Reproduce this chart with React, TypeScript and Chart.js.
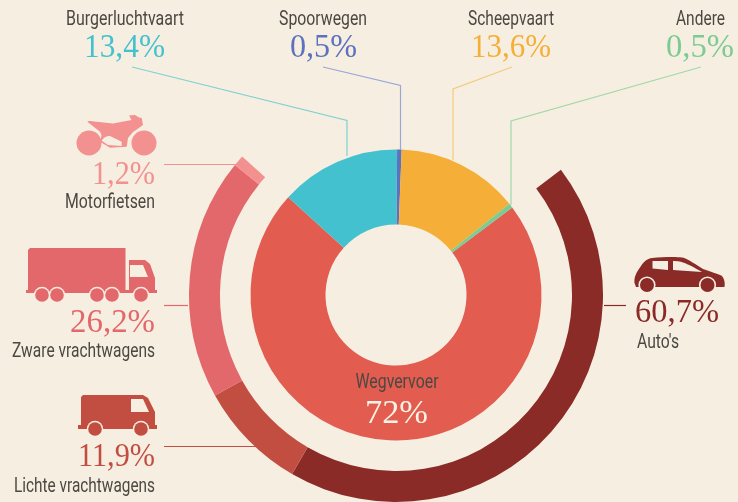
import React, { useEffect, useRef } from "react";
import { Chart, registerables } from "chart.js";

Chart.register(...registerables);

const innerCategories = ["Wegvervoer", "Burgerluchtvaart", "Spoorwegen", "Scheepvaart", "Andere"];
const innerValues = [72, 13.4, 0.5, 13.6, 0.5];
const innerColors = ["#E25C50", "#44C1CE", "#5C72BE", "#F5AE37", "#7BCB93"];

const outerCategories = ["Auto's", "Lichte vrachtwagens", "Zware vrachtwagens", "Motorfietsen"];
const outerValues = [60.7, 11.9, 26.2, 1.2];
const outerColors = ["#8A2B28", "#C24E41", "#E2686B", "#F39190"];

const BG = "#F6EFE1";
const LABEL_FONT = "Roboto";
const NUM_FONT = "'Liberation Serif'";

const fmt = (v: number) => (Number.isInteger(v) ? `${v}%` : `${v.toFixed(1).replace(".", ",")}%`);

function fitText(ctx: CanvasRenderingContext2D, text: string, x: number, y: number, width: number, align: "left" | "right" | "center", font: string, color: string) {
  ctx.save();
  ctx.font = font;
  ctx.fillStyle = color;
  ctx.textBaseline = "alphabetic";
  ctx.textAlign = "left";
  const w = ctx.measureText(text).width;
  const sx = width / w;
  const left = align === "left" ? x : align === "right" ? x - width : x - width / 2;
  ctx.translate(left, y);
  ctx.scale(sx, 1);
  ctx.fillText(text, 0, 0);
  ctx.restore();
}

function poly(ctx: CanvasRenderingContext2D, pts: number[][], color: string, lineWidth = 1.2) {
  ctx.save();
  ctx.strokeStyle = color;
  ctx.lineWidth = lineWidth;
  ctx.beginPath();
  pts.forEach((p, i) => (i ? ctx.lineTo(p[0], p[1]) : ctx.moveTo(p[0], p[1])));
  ctx.stroke();
  ctx.restore();
}

function fillShape(ctx: CanvasRenderingContext2D, d: string, color: string) {
  ctx.fillStyle = color;
  ctx.fill(new Path2D(d));
}

function wheel(ctx: CanvasRenderingContext2D, x: number, y: number, r: number, color: string, ring = 1.6) {
  ctx.beginPath();
  ctx.arc(x, y, r + ring, 0, Math.PI * 2);
  ctx.fillStyle = BG;
  ctx.fill();
  ctx.beginPath();
  ctx.arc(x, y, r, 0, Math.PI * 2);
  ctx.fillStyle = color;
  ctx.fill();
}

const overlay = {
  id: "overlay",
  afterDraw(chart: any) {
    const ctx: CanvasRenderingContext2D = chart.ctx;
    const [auto, lichte, zware, motor] = outerColors;
    // leaders
    poly(ctx, [[132, 67], [347, 120.5], [347, 156]], "#7FD0D2");
    poly(ctx, [[323, 67], [400.5, 85.5], [400.5, 150]], "#9AA5D8");
    poly(ctx, [[512, 67], [453, 89], [453, 160]], "#F5C97C");
    poly(ctx, [[701, 67], [511, 121], [511, 205]], "#A0D8A8");
    poly(ctx, [[164, 164.5], [241, 164.5]], motor);
    poly(ctx, [[164, 305.5], [188, 305.5]], zware);
    poly(ctx, [[164, 446.5], [256, 446.5]], lichte);
    poly(ctx, [[604, 305.5], [626, 305.5]], auto);

    // labels
    const lab = (t: string, x: number, y: number, w: number, a: any) => fitText(ctx, t, x, y, w, a, `20px ${LABEL_FONT}`, "#4B4843");
    const num = (t: string, x: number, y: number, w: number, a: any, c: string) => fitText(ctx, t, x, y, w, a, `33px ${NUM_FONT}`, c);

    lab(innerCategories[1], 125, 25, 118, "center");
    num(fmt(innerValues[1]), 124.5, 57, 81, "center", innerColors[1]);
    lab(innerCategories[2], 323, 25, 88, "center");
    num(fmt(innerValues[2]), 323.5, 57, 67, "center", innerColors[2]);
    lab(innerCategories[3], 511, 25, 86, "center");
    num(fmt(innerValues[3]), 511, 57, 80, "center", innerColors[3]);
    lab(innerCategories[4], 700.5, 25, 49, "center");
    num(fmt(innerValues[4]), 700, 57, 68, "center", innerColors[4]);

    num(fmt(outerValues[3]), 155, 184, 63, "right", motor);
    lab(outerCategories[3], 155, 208, 90, "right");
    num(fmt(outerValues[2]), 155, 332, 85, "right", zware);
    lab(outerCategories[2], 155, 357, 143, "right");
    num(fmt(outerValues[1]), 155, 466, 77, "right", lichte);
    lab(outerCategories[1], 155, 492, 141, "right");
    num(fmt(outerValues[0]), 635, 322, 84, "left", auto);
    lab(outerCategories[0], 637, 348, 42, "left");

    lab(innerCategories[0], 397, 388, 83, "center");
    fitText(ctx, fmt(innerValues[0]), 396.5, 423, 63, "center", `33px ${NUM_FONT}`, "#FBF3E4");

    // motorbike
    ctx.save();
    ctx.beginPath(); ctx.arc(89, 143, 12.5, 0, 7); ctx.fillStyle = motor; ctx.fill();
    ctx.beginPath(); ctx.arc(144, 143, 12.5, 0, 7); ctx.fill();
    fillShape(ctx, "M87.3 121.7 C88 120.5 90 121 92 121.3 L113 123.5 L131.5 120 L129 115.5 L135 115 L139 117.5 L141.7 118 L143 125 L136 130 L133 132 L128 138 L126.7 146.7 L110 147.7 L100 141.7 L101.5 135 L100 131.7 Z", motor);
    fillShape(ctx, "M101.7 140.7 C104 137 107 136 110 136 L121.7 141.7 L121.7 146 L108 145 Z", BG);

    // truck
    fillShape(ctx, "M30 248 L125.5 248 L125.5 290 L129 290 L129 260 L145 260 L150 264 L155 278 L155 290 L157 290 L157 293 L26 293 L26 290 L28 290 L28 250 Z", zware);
    fillShape(ctx, "M130 265 L143 265 L148 277 L130 277 Z", BG);
    [42, 57, 97, 112, 141].forEach((x) => wheel(ctx, x, 295, 6.8, zware, 1.4));

    // van
    fillShape(ctx, "M83 395 L143 395 L148 398 L155 412 L155 425 L157 425 L157 429 L78 429 L78 425 L81 425 L81 397 Z", lichte);
    fillShape(ctx, "M131 399 L143 399 L149 412 L131 412 Z", BG);
    [95, 141].forEach((x) => wheel(ctx, x, 429, 6.8, lichte, 1.4));

    // car
    fillShape(ctx, "M634.5 283 C634 277 636 273 641 266 C644 261 648 258.5 652 258 C662 257 676 256.5 682 257.5 C686 258 692 262 703 269 C711 272 719 274 722 276 C725 280 725 284 724.5 287 L636 287 Z", auto);
    fillShape(ctx, "M652.5 261 L668 261 L668 270 L652.5 268.5 Z", BG);
    fillShape(ctx, "M673 261 C680 261 685 262 702 272 L673 270 Z", BG);
    [647, 707.5].forEach((x) => wheel(ctx, x, 285, 7, auto, 1.6));
    ctx.restore();
  },
};

export default function App() {
  const ref = useRef<HTMLCanvasElement>(null);
  useEffect(() => {
    document.body.style.margin = "0";
    document.body.style.background = BG;
    const chart = new Chart(ref.current!, {
      type: "doughnut",
      data: {
        labels: innerCategories,
        datasets: [
          {
            label: "Wegvervoer",
            data: outerValues,
            backgroundColor: outerColors,
            borderWidth: 0,
            weight: 31,
            rotation: 52.8,
            circumference: 259.2,
          } as any,
          {
            label: "gap",
            data: [1],
            backgroundColor: ["rgba(0,0,0,0)"],
            borderWidth: 0,
            weight: 30.5,
          } as any,
          {
            label: "Transport",
            data: innerValues,
            backgroundColor: innerColors,
            borderWidth: 0,
            weight: 75,
            rotation: 53,
          } as any,
        ],
      },
      options: {
        responsive: false,
        animation: false,
        cutout: "34.06%",
        layout: { padding: { left: 189, right: 135, top: 88, bottom: 0 } },
        plugins: { legend: { display: false }, tooltip: { enabled: false } },
      },
      plugins: [overlay],
    } as any);
    return () => chart.destroy();
  }, []);
  return (
    <div style={{ position: "absolute", left: 0, top: 0, width: 738, height: 502, background: BG, overflow: "hidden" }}>
      <canvas ref={ref} width={738} height={502} style={{ display: "block" }} />
    </div>
  );
}
